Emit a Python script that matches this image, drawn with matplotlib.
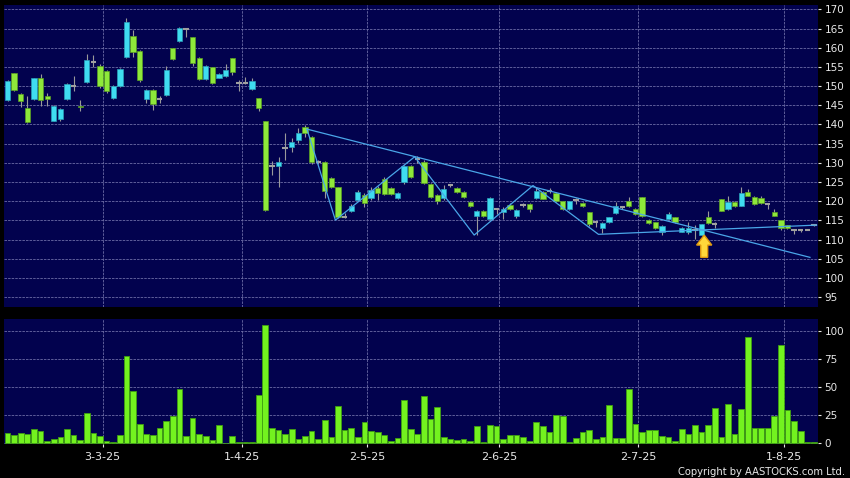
import matplotlib.pyplot as plt
from matplotlib.patches import FancyArrow
import numpy as np

# daily OHLC, one bar per trading day
opens = [146.4, 153.3, 147.9, 144.2, 146.6, 152.0, 147.3, 141.0, 141.5, 146.7,
         150.1, 144.9, 151.0, 156.4, 155.2, 153.9, 146.8, 149.9, 157.7, 163.1,
         159.2, 146.6, 149.0, 146.6, 147.7, 159.8, 161.8, 164.9, 162.7, 157.2,
         151.9, 154.9, 152.2, 152.6, 157.2, 150.9, 150.7, 149.2, 146.8, 140.8,
         129.1, 129.1, 133.9, 134.2, 136.0, 139.4, 136.8, 130.2, 130.3, 126.0,
         123.6, 116.0, 117.6, 120.3, 121.6, 120.8, 123.4, 125.7, 123.4, 120.9,
         125.1, 129.2, 130.9, 130.3, 124.5, 121.6, 120.9, 124.2, 123.4, 122.4,
         119.7, 116.1, 117.6, 115.4, 117.9, 117.3, 119.1, 116.3, 119.1, 119.3,
         120.8, 122.4, 122.6, 122.1, 120.0, 117.9, 120.4, 119.6, 117.1, 114.5,
         113.0, 114.6, 116.9, 118.6, 120.1, 118.1, 121.0, 115.1, 114.5, 112.1,
         115.5, 115.8, 112.1, 112.0, 112.4, 111.3, 115.9, 114.0, 120.5, 117.9,
         119.8, 118.9, 122.4, 121.1, 120.8, 119.2, 117.3, 115.0, 113.7, 112.6,
         112.6, 112.6, 113.7]
closes = [151.3, 149.0, 146.0, 140.7, 152.0, 146.4, 146.6, 144.8, 144.0, 150.5,
          150.1, 144.5, 156.8, 156.4, 149.9, 148.8, 150.0, 154.5, 166.6, 159.0,
          151.6, 149.0, 145.3, 146.6, 154.2, 157.1, 165.1, 164.9, 155.9, 151.9,
          155.2, 150.7, 153.2, 154.2, 153.6, 150.9, 150.7, 151.3, 144.2, 117.7,
          129.1, 130.2, 133.9, 135.4, 137.8, 137.7, 130.3, 130.2, 122.8, 123.6,
          116.0, 116.0, 118.8, 122.5, 119.5, 123.0, 122.1, 121.9, 121.9, 122.1,
          129.2, 126.2, 130.9, 124.7, 121.2, 120.2, 123.2, 124.2, 122.4, 121.1,
          118.8, 117.6, 116.1, 120.8, 117.9, 118.0, 118.0, 117.8, 119.1, 117.9,
          122.6, 120.7, 122.6, 120.0, 118.0, 120.0, 120.4, 118.7, 114.1, 114.5,
          114.3, 115.8, 118.9, 118.6, 118.8, 116.7, 116.2, 114.3, 113.0, 113.6,
          116.8, 114.5, 113.1, 113.0, 112.4, 114.0, 114.3, 114.0, 117.6, 119.8,
          118.9, 122.1, 121.5, 119.2, 119.6, 119.2, 116.3, 113.0, 113.0, 112.6,
          112.6, 112.6, 113.7]
highs = [151.7, 153.5, 148.2, 147.5, 152.2, 153.2, 148.1, 145.1, 144.2, 150.8,
         152.6, 146.4, 158.4, 158.1, 155.7, 154.1, 150.3, 154.7, 167.7, 164.6,
         159.4, 149.2, 149.2, 147.5, 155.2, 160.0, 165.4, 165.1, 162.9, 157.6,
         155.4, 155.1, 153.5, 155.7, 157.4, 151.6, 152.4, 152.0, 147.0, 140.9,
         130.6, 131.6, 137.9, 136.6, 139.2, 139.9, 137.0, 130.7, 130.5, 126.2,
         123.8, 116.9, 119.2, 123.0, 122.1, 123.6, 124.0, 126.2, 123.6, 122.3,
         129.4, 129.4, 131.8, 130.7, 124.7, 121.8, 124.3, 124.4, 123.6, 122.6,
         120.0, 117.8, 117.8, 121.0, 118.2, 118.4, 119.5, 118.1, 119.5, 119.5,
         123.6, 122.6, 123.4, 122.3, 120.2, 120.2, 120.8, 119.8, 117.3, 114.8,
         114.5, 116.0, 119.7, 118.9, 121.0, 118.3, 121.2, 115.3, 114.7, 113.8,
         117.2, 116.0, 113.3, 114.5, 113.7, 114.2, 117.4, 114.5, 120.7, 121.5,
         120.0, 123.7, 123.2, 121.3, 121.3, 119.4, 118.0, 115.2, 113.9, 112.8,
         112.8, 112.7, 113.8]
lows = [146.2, 148.8, 144.5, 140.5, 146.4, 144.8, 144.8, 140.8, 141.0, 146.4,
        148.8, 143.6, 150.8, 155.1, 149.4, 148.3, 146.6, 149.7, 157.2, 157.7,
        151.0, 145.7, 143.8, 145.5, 147.3, 156.8, 161.6, 162.7, 155.3, 151.7,
        151.7, 150.5, 152.0, 152.4, 153.0, 148.8, 150.5, 149.0, 143.6, 117.5,
        126.9, 123.8, 130.8, 132.9, 135.1, 136.8, 129.7, 129.7, 120.8, 123.4,
        115.6, 115.6, 117.3, 120.1, 118.6, 120.4, 120.4, 121.7, 121.7, 120.7,
        124.6, 126.0, 129.9, 124.5, 120.8, 119.3, 120.3, 123.8, 122.2, 120.9,
        118.6, 111.2, 115.9, 115.2, 116.8, 115.4, 117.8, 115.7, 118.4, 117.3,
        120.6, 120.5, 122.2, 119.8, 117.8, 117.7, 119.4, 118.5, 113.6, 113.3,
        111.8, 114.4, 116.7, 118.0, 118.6, 116.5, 115.8, 114.1, 112.8, 111.3,
        115.3, 114.3, 111.9, 111.6, 110.2, 111.1, 114.1, 113.1, 117.4, 117.7,
        118.5, 118.7, 121.3, 119.0, 119.4, 117.9, 116.1, 112.6, 112.8, 111.5,
        111.9, 112.5, 113.6]
volumes = [8.9, 7.4, 9.2, 8.3, 13.1, 11.0, 2.4, 3.6, 5.7, 12.5,
           7.4, 2.7, 27.4, 9.5, 6.5, 1.8, 1.2, 7.7, 78.0, 46.4,
           17.0, 8.0, 7.7, 13.4, 19.9, 24.1, 48.5, 6.8, 22.3, 8.3,
           6.3, 3.0, 16.1, 0.6, 6.8, 0.9, 0.9, 0.9, 42.9, 105.7,
           14.0, 11.6, 8.0, 12.6, 3.9, 6.5, 11.0, 4.2, 21.1, 5.7,
           33.3, 11.6, 14.0, 6.0, 18.8, 11.0, 10.4, 7.4, 2.4, 4.5,
           38.4, 12.5, 8.6, 42.6, 21.7, 32.1, 5.4, 3.6, 2.7, 3.6,
           1.8, 15.2, 0.9, 16.4, 15.8, 3.6, 7.1, 7.1, 5.7, 2.1,
           19.0, 15.2, 9.8, 25.3, 24.7, 1.5, 4.5, 10.1, 11.9, 3.9,
           5.7, 33.9, 5.1, 4.5, 48.8, 17.6, 10.4, 12.2, 11.9, 6.8,
           5.4, 2.1, 12.5, 8.0, 16.1, 10.4, 16.1, 31.5, 5.4, 35.4,
           8.3, 30.7, 94.6, 14.0, 14.0, 13.4, 24.7, 87.5, 29.8, 20.2,
           11.0, 0.9, 0.9]

date_labels = ['3-3-25', '1-4-25', '2-5-25', '2-6-25', '2-7-25', '1-8-25']
date_idx = [14, 35, 54, 74, 95, 117]

# trend lines drawn on the chart (bar index, price)
down_x = [45.3, 121.4]
down_y = [138.8, 105.4]
zig_x = [45.3, 49.6, 61.6, 70.6, 79.5, 89.4, 122.4]
zig_y = [138.8, 115.1, 131.6, 111.2, 124.1, 111.4, 113.8]
arrow_idx = 105.4

BG = '#02024e'
GRID = '#6c6ca6'
TXT = '#e8e8e8'

fig = plt.figure(figsize=(8.5, 4.78), dpi=100, facecolor='black')
ax_p = fig.add_axes([4/850, 1-306.7/478, 814.3/850, 301.7/478], facecolor=BG)
ax_v = fig.add_axes([4/850, 1-444/478, 814.3/850, 124.7/478], facecolor=BG)

idx = np.arange(len(opens))
o = np.array(opens)
c = np.array(closes)
up = c > o
down = c < o
flat = c == o

## Candles
ax_p.vlines(idx, lows, highs, color='#9a9a9a', lw=0.8, zorder=2)
ax_p.bar(idx[up], (c-o)[up], bottom=o[up], width=0.8, color='#3fdcf0',
         edgecolor='#2a9fb8', lw=0.5, zorder=3)
ax_p.bar(idx[down], (o-c)[down], bottom=c[down], width=0.8, color='#8ee83a',
         edgecolor='#5a9f22', lw=0.5, zorder=3)
ax_p.hlines(c[flat], idx[flat]-0.4, idx[flat]+0.4, color='#a0a0a0', lw=1.5, zorder=3)

ax_p.plot(down_x, down_y, color='#4aa6e8', lw=0.9, zorder=4)
ax_p.plot(zig_x, zig_y, color='#4aa6e8', lw=0.9, zorder=4)

ax_p.add_patch(FancyArrow(arrow_idx, 105.4, 0, 5.8, width=1.05, head_width=2.3,
                          head_length=2.6, length_includes_head=True,
                          facecolor='#ffd83a', edgecolor='#e09a10', lw=1, zorder=5))

## Volume
ax_v.bar(idx, volumes, width=0.86, color='#73f21f', edgecolor='#3f9f12', lw=0.6, zorder=3)

grid_x = [i + 0.4 for i in date_idx]
for ax in (ax_p, ax_v):
    ax.set_xlim(-0.53, 122.66)
    ax.set_xticks(grid_x)
    ax.yaxis.tick_right()
    ax.grid(True, color=GRID, linestyle=(0, (3, 1.3)), linewidth=0.6, zorder=0)
    ax.set_axisbelow(True)
    for s in ax.spines.values():
        s.set_visible(False)
    ax.tick_params(axis='y', colors=TXT, labelsize=7.5, length=2.5, width=0.8, pad=2)

ax_p.set_ylim(92.55, 171.12)
ax_p.set_yticks(np.arange(95, 171, 5))
ax_p.tick_params(axis='x', length=0, labelbottom=False)

ax_v.set_ylim(-0.6, 110.7)
ax_v.set_yticks([0, 25, 50, 75, 100])
ax_v.set_xticklabels(date_labels)
ax_v.tick_params(axis='x', colors=TXT, labelsize=8, length=2.5, width=0.8, pad=3)

fig.text(0.994, 0.013, 'Copyright by AASTOCKS.com Ltd.', color=TXT, fontsize=7.2,
         ha='right', va='center')

plt.savefig('out.png', dpi=100, facecolor='black')
